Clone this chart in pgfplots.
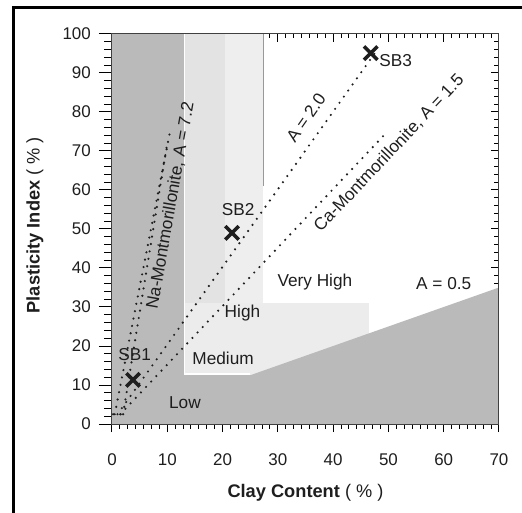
\documentclass[border=0pt]{standalone}
\usepackage{fontspec}
\setmainfont{Liberation Sans}
\usepackage{pgfplots}
\pgfplotsset{compat=1.18}
\definecolor{dk}{RGB}{186,186,186}
\definecolor{lt}{RGB}{238,238,238}
\definecolor{ltl}{RGB}{227,227,227}
\definecolor{band}{RGB}{236,236,236}
\definecolor{ink}{RGB}{30,30,30}
\newcommand{\lab}{\fontsize{17.3}{20}\selectfont}
\newcommand{\tlab}{\fontsize{17}{19}\selectfont}
\newcommand{\alab}{\fontsize{18.3}{21}\selectfont}

\begin{document}
\begin{tikzpicture}
\useasboundingbox (-112bp,-89bp) rectangle (410bp,424bp);
\pgfplotsset{
  base/.style={
    width=387bp, height=390bp, scale only axis,
    xmin=0, xmax=70, ymin=0, ymax=100,
    xtick={0,10,...,70}, ytick={0,10,...,100},
    minor x tick num=6, minor y tick num=4,
    tick style={black, line width=1bp},
    axis line style={line width=1bp, black!75},
    /pgf/number format/assume math mode=true,
    ticklabel style={font=\tlab, text=ink},
  },
  dots/.style={ink, line width=2.4bp, line cap=round, dash pattern=on 0bp off 7.5bp},
}
% background axis: inner ticks on top and right, covered by the zones
\begin{axis}[base, tick align=inside, xtick pos=right, ytick pos=right,
  xticklabels={}, yticklabels={},
  major tick length=8bp, minor tick length=4.5bp]
  \addplot[draw=none, fill=lt] coordinates {(13,12.5) (13,100) (27.3,100) (27.3,12.5)} -- cycle;
  \addplot[draw=none, fill=ltl] coordinates {(13,12.5) (13,100) (20.5,100) (20.5,12.5)} -- cycle;
  \addplot[draw=none, fill=band] coordinates {(13,12.5) (13,31) (46.5,31) (46.5,12.5)} -- cycle;
  \addplot[draw=none, fill=dk] coordinates {(0,0) (0,100) (13,100) (13,12.5) (25,12.5) (70,35) (70,0)} -- cycle;
  \addplot[white, line width=1.2bp] coordinates {(13.15,100) (13.15,12.8) (25,12.8)};
  \addplot[black!40, line width=0.8bp] coordinates {(27.3,61) (27.3,100)};
\end{axis}
% front axis: outer ticks at the bottom and left, the lines, samples and labels
\begin{axis}[base, tick align=outside, xtick pos=left, ytick pos=left,
  major tick length=13bp, minor tick length=7.5bp, clip=false,
  xtick style={/pgfplots/major tick length=8bp, /pgfplots/minor tick length=5bp},
  xticklabel style={inner sep=0pt, anchor=north, yshift=-16bp},
  yticklabel style={inner sep=0pt, anchor=east, xshift=-8bp}]
  \addplot[dots] coordinates {(0.5,2.5) (10.5,75)};
  \addplot[dots] coordinates {(2.0,2.5) (10.0,72)};
  \addplot[dots] coordinates {(1.0,2.5) (47.5,95)};
  \addplot[dots] coordinates {(1.5,2.5) (49.5,74.5)};
  \addplot[dots] coordinates {(0.2,2.5) (2.2,2.5)};
  \addplot[ink, solid, only marks, mark=x, mark size=9.5bp, line width=3.6bp]
    coordinates {(3.8,11.3) (21.7,49) (46.8,95.1)};
  \node[font=\lab, text=ink, rotate=80] at (axis cs:10.6,56) {Na-Montmorillonite, A = 7.2};
  \node[font=\lab, text=ink, rotate=55] at (axis cs:35.1,78.5) {A = 2.0};
  \node[font=\lab, text=ink, rotate=46.6] at (axis cs:50.1,69.4) {Ca-Montmorillonite, A = 1.5};
  \node[font=\lab, text=ink] at (axis cs:36.7,36.4) {Very High};
  \node[font=\lab, text=ink] at (axis cs:23.6,28.5) {High};
  \node[font=\lab, text=ink] at (axis cs:20.1,16.8) {Medium};
  \node[font=\lab, text=ink] at (axis cs:13.2,5.5) {Low};
  \node[font=\lab, text=ink] at (axis cs:60,35.9) {A = 0.5};
  \node[font=\lab, text=ink] at (axis cs:4.1,17.7) {SB1};
  \node[font=\lab, text=ink] at (axis cs:22.8,54.9) {SB2};
  \node[font=\lab, text=ink] at (axis cs:51.3,93.3) {SB3};
  \node[font=\alab, text=ink, rotate=90] at (rel axis cs:-0.199,0.51)
    {\textbf{Plasticity Index} ( \% )};
  \node[font=\alab, text=ink] at (rel axis cs:0.5,-0.177)
    {\textbf{Clay Content} ( \% )};
\end{axis}
\draw[black, line width=3bp] (-98.5bp,-89bp) -- (-98.5bp,416bp) -- (410bp,416bp);
\end{tikzpicture}
\end{document}
